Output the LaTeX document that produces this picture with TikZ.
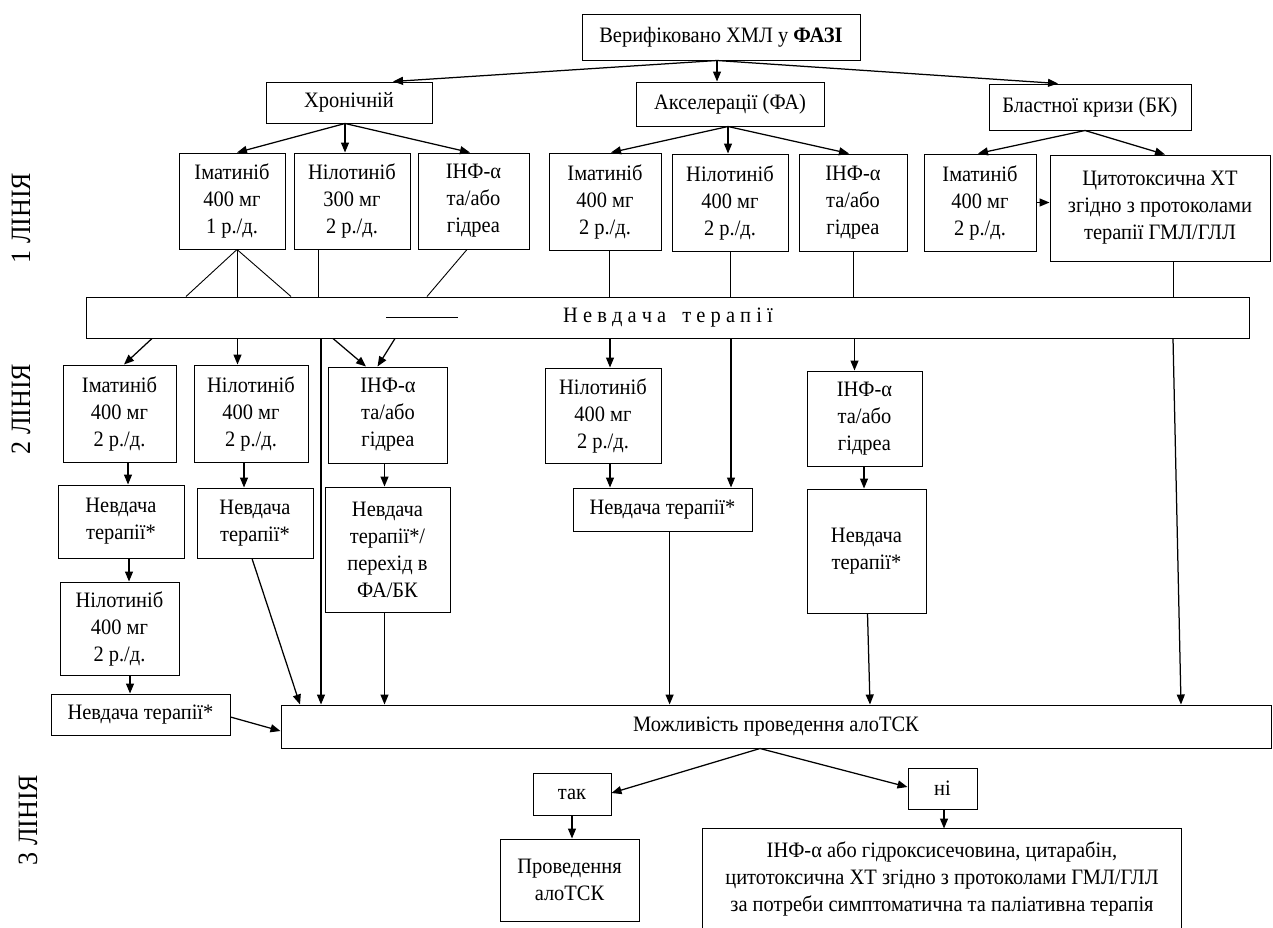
\documentclass[tikz,border=0pt]{standalone}
\usepackage{fontspec}
\setmainfont{Liberation Serif}[FakeStretch=0.93]
\usetikzlibrary{arrows.meta}
\newcommand\boxfont{\fontsize{22}{27}\selectfont}
\newcommand\lvlfont{\fontsize{28}{32}\selectfont}
\tikzset{
  box/.style={draw, line width=1pt, inner sep=2pt, align=center, font=\boxfont},
  link/.style={line width=0.9pt},
  arr/.style={line width=1.25pt, -{Triangle[length=10pt,width=8pt]}},
  lvl/.style={rotate=90, font=\lvlfont},
}
\begin{document}
\begin{tikzpicture}[x=1pt,y=-1pt]
\fill[white] (0,0) rectangle (1273,927);
\useasboundingbox (0,0) rectangle (1273,927);

% phases
\node[box, minimum width=278pt, minimum height=46pt] (top) at (721,37) {Верифіковано ХМЛ у \textbf{ФАЗІ}};
\node[box, minimum width=166pt, minimum height=41pt] (ch) at (349,102.5) {Хронічній};
\node[box, minimum width=188pt, minimum height=44pt] (fa) at (730,104) {Акселерації (ФА)};
\node[box, minimum width=202pt, minimum height=46pt] (bk) at (1090,107) {Бластної кризи (БК)};

% first line of therapy
\node[box, minimum width=106pt, minimum height=96pt] (c1) at (232,201) {Іматиніб\\400 мг\\1 р./д.};
\node[box, minimum width=116pt, minimum height=96pt] (c2) at (352,201) {Нілотиніб\\300 мг\\2 р./д.};
\node[box, minimum width=111pt, minimum height=96pt] (c3) at (473.5,201) {ІНФ-α\\та/або\\гідреа};
\node[box, minimum width=112pt, minimum height=97pt] (a1) at (605,201.5) {Іматиніб\\400 мг\\2 р./д.};
\node[box, minimum width=116pt, minimum height=97pt] (a2) at (730,202.5) {Нілотиніб\\400 мг\\2 р./д.};
\node[box, minimum width=108pt, minimum height=97pt] (a3) at (853,202.5) {ІНФ-α\\та/або\\гідреа};
\node[box, minimum width=112pt, minimum height=97pt] (b1) at (980,202.5) {Іматиніб\\400 мг\\2 р./д.};
\node[box, minimum width=220pt, minimum height=106pt] (b2) at (1160,208) {Цитотоксична ХТ\\згідно з протоколами\\терапії ГМЛ/ГЛЛ};

% therapy failure bar
\node[box, minimum width=1163pt, minimum height=41pt] (fail) at (668,317.5) {Н е в д а ч а\hspace{0.5em} т е р а п і ї};

% second line of therapy
\node[box, minimum width=113pt, minimum height=97pt] (im2) at (119.5,413.5) {Іматиніб\\400 мг\\2 р./д.};
\node[box, minimum width=114pt, minimum height=97pt] (nil2) at (251,413.5) {Нілотиніб\\400 мг\\2 р./д.};
\node[box, minimum width=119pt, minimum height=96pt] (inf2) at (388,415) {ІНФ-α\\та/або\\гідреа};
\node[box, minimum width=116pt, minimum height=95pt] (nilA) at (603,415.5) {Нілотиніб\\400 мг\\2 р./д.};
\node[box, minimum width=115pt, minimum height=95pt] (infB) at (864.5,418.5) {ІНФ-α\\та/або\\гідреа};

\node[box, minimum width=126pt, minimum height=73pt] (f1) at (121,521.5) {Невдача\\терапії*};
\node[box, minimum width=116pt, minimum height=70pt] (f2) at (255,523) {Невдача\\терапії*\hspace{0.6em}};
\node[box, minimum width=125pt, minimum height=125pt] (f3) at (387.5,549.5) {Невдача\\терапії*/\\перехід в\\ФА/БК};
\node[box, minimum width=179pt, minimum height=43pt] (failA) at (662.5,509.5) {Невдача терапії*};
\node[box, minimum width=119pt, minimum height=124pt] (fB) at (866.5,551) {Невдача\\терапії*};

\node[box, minimum width=119pt, minimum height=93pt] (nil3) at (119.5,628.5) {Нілотиніб\\400 мг\\2 р./д.};
\node[box, minimum width=179pt, minimum height=41pt] (f4) at (140.5,714.5) {Невдача терапії*};

% third line of therapy
\node[box, minimum width=990pt, minimum height=43pt] (mog) at (776,726.5) {Можливість проведення алоТСК};
\node[box, minimum width=78pt, minimum height=42pt] (tak) at (572,794) {так};
\node[box, minimum width=69pt, minimum height=41pt] (ni) at (942.5,788.5) {ні};
\node[box, minimum width=139pt, minimum height=82pt] (prov) at (569.5,880) {Проведення\\алоТСК};
\node[box, draw=none, minimum width=478pt, minimum height=100pt] (big) at (942,879)
  {ІНФ-α або гідроксисечовина, цитарабін,\\цитотоксична ХТ згідно з протоколами ГМЛ/ГЛЛ\\за потреби симптоматична та паліативна терапія};
\draw[line width=1pt] (big.south west) -- (big.north west) -- (big.north east) -- (big.south east);

% line labels
\node[lvl] (l1) at (21,218) {1 ЛІНІЯ};
\node[lvl] (l2) at (21,409) {2 ЛІНІЯ};
\node[lvl] (l3) at (28,820) {3 ЛІНІЯ};

% phase to sub-phase
\draw[arr] (top.south -| 717,0) -- (ch.north -| 393,0);
\draw[arr] (top.south -| 717,0) -- (fa.north -| 717,0);
\draw[arr] (top.south -| 717,0) -- (bk.north -| 1058,0);
\draw[arr] (ch.south -| 345,0) -- (c1.north -| 237,0);
\draw[arr] (ch.south -| 345,0) -- (c2.north -| 345,0);
\draw[arr] (ch.south -| 345,0) -- (c3.north -| 470,0);
\draw[arr] (fa.south -| 728,0) -- (a1.north -| 611,0);
\draw[arr] (fa.south -| 728,0) -- (a2.north -| 728,0);
\draw[arr] (fa.south -| 728,0) -- (a3.north -| 849,0);
\draw[arr] (bk.south -| 1085,0) -- (b1.north -| 978,0);
\draw[arr] (bk.south -| 1085,0) -- (b2.north -| 1165,0);
\draw[arr] (b1.east) -- (b2.west |- b1.east);

% first line into the failure bar
\draw[link] (c1.south -| 237,0) -- (fail.north -| 186,0);
\draw[link] (c1.south -| 237,0) -- (fail.north -| 237,0);
\draw[link] (c1.south -| 237,0) -- (fail.north -| 291,0);
\draw[link] (c2.south -| 318,0) -- (fail.north -| 318,0);
\draw[link] (c3.south -| 467,0) -- (fail.north -| 427,0);
\draw[link] (a1.south -| 609,0) -- (fail.north -| 609,0);
\draw[link] (a2.south -| 730,0) -- (fail.north -| 730,0);
\draw[link] (a3.south -| 853,0) -- (fail.north -| 853,0);
\draw[link] (b2.south -| 1173,0) -- (fail.north -| 1173,0);
\draw[line width=1.5pt] (fail.center -| 386,0) -- (fail.center -| 458,0);

% failure bar to second line
\draw[arr] (fail.south -| 152,0) -- (im2.north -| 124,0);
\draw[arr] (fail.south -| 237.5,0) -- (nil2.north -| 237.5,0);
\draw[arr] (fail.south -| 333,0) -- (inf2.north -| 366,0);
\draw[arr] (fail.south -| 395,0) -- (inf2.north -| 377.5,0);
\draw[arr] (fail.south -| 610,0) -- (nilA.north -| 610,0);
\draw[arr] (fail.south -| 731,0) -- (failA.north -| 731,0);
\draw[arr] (fail.south -| 854.5,0) -- (infB.north -| 854.5,0);
\draw[arr] (fail.south -| 321,0) -- (mog.north -| 321,0);
\draw[arr] (fail.south -| 1173,0) -- (mog.north -| 1181,0);

% within the columns
\draw[arr] (im2.south -| 128,0) -- (f1.north -| 128,0);
\draw[arr] (f1.south -| 129,0) -- (nil3.north -| 129,0);
\draw[arr] (nil3.south -| 130,0) -- (f4.north -| 130,0);
\draw[arr] (nil2.south -| 244,0) -- (f2.north -| 244,0);
\draw[arr] (inf2.south -| 384.5,0) -- (f3.north -| 384.5,0);
\draw[arr] (nilA.south -| 610,0) -- (failA.north -| 610,0);
\draw[arr] (infB.south -| 864,0) -- (fB.north -| 864,0);

% into the transplant decision
\draw[arr] (f4.east |- 0,717) -- (mog.west |- 0,731);
\draw[arr] (f2.south -| 252,0) -- (mog.north -| 300,0);
\draw[arr] (f3.south -| 384.5,0) -- (mog.north -| 384.5,0);
\draw[arr] (failA.south -| 669.6,0) -- (mog.north -| 669.6,0);
\draw[arr] (fB.south -| 867.5,0) -- (mog.north -| 870,0);

% decision outcomes
\draw[arr] (mog.south -| 760,0) -- (tak.east |- 0,793);
\draw[arr] (mog.south -| 760,0) -- (ni.west |- 0,787);
\draw[arr] (tak.south -| 572,0) -- (prov.north -| 572,0);
\draw[arr] (ni.south -| 944,0) -- (big.north -| 944,0);
\end{tikzpicture}
\end{document}
